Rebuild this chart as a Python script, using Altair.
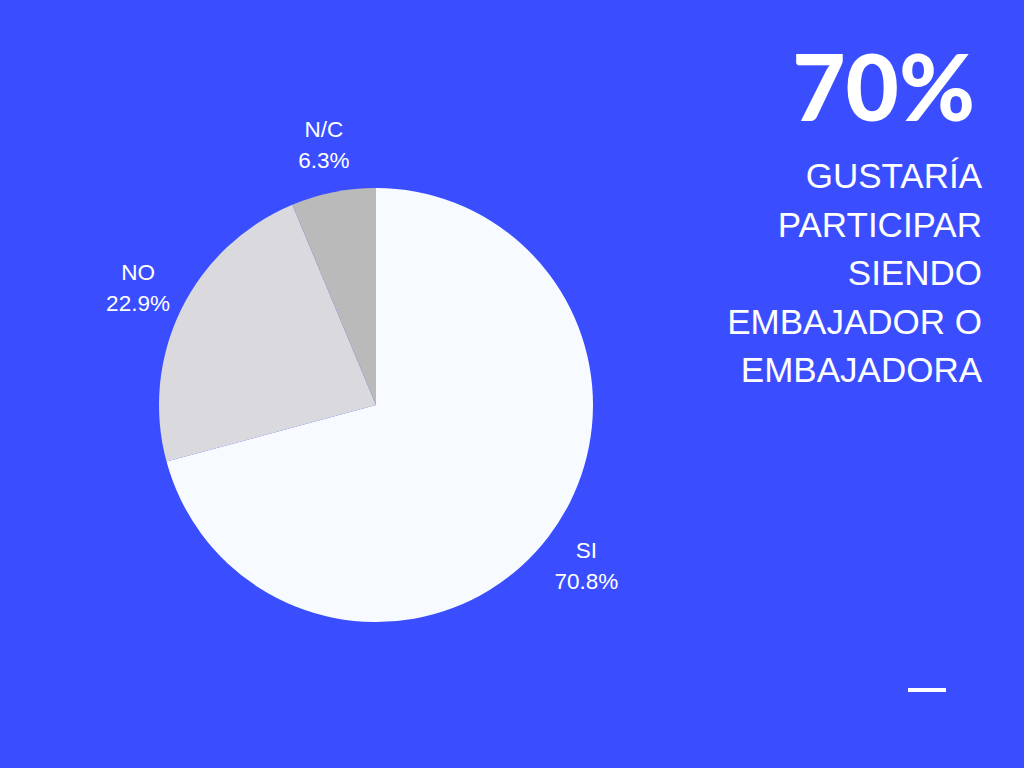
import altair as alt
import pandas as pd

categories = ["SI", "NO", "N/C"]
values = [70.8, 22.9, 6.3]
colors = ["#F7FBFF", "#DADADE", "#BABABA"]
headline = "70%"
subtitle_lines = ["GUSTARÍA", "PARTICIPAR", "SIENDO", "EMBAJADOR O", "EMBAJADORA"]

df = pd.DataFrame({
    "cat": categories,
    "val": values,
    "ord": list(range(len(categories))),
})
df["label"] = [f"{c}\n{v:.1f}%" for c, v in zip(categories, values)]

BG = "#3A4EFF"
CX, CY = 376, 405

base = alt.Chart(df).encode(
    theta=alt.Theta("val:Q", stack=True),
    order=alt.Order("ord:Q", sort="ascending"),
)

pie = base.mark_arc(outerRadius=217, stroke=None).encode(
    x=alt.value(CX), y=alt.value(CY),
    color=alt.Color("cat:N", scale=alt.Scale(domain=categories, range=colors), legend=None),
)

labels = base.mark_text(
    radius=265, font="Liberation Sans", fontSize=22.5, color="white",
    lineBreak="\n", lineHeight=31, align="center", baseline="middle", dy=-15,
).encode(x=alt.value(CX), y=alt.value(CY), text="label:N")

one = pd.DataFrame({"k": [0]})

head = alt.Chart(one).mark_text(
    text=headline, font="Lato", fontWeight=900, fontSize=92, color="white",
    align="right", baseline="middle",
).encode(x=alt.value(975), y=alt.value(93))

sub = alt.Chart(one).mark_text(
    text=subtitle_lines, font="Liberation Sans", fontSize=35, color="white",
    align="right", baseline="middle", lineHeight=48.5,
).encode(x=alt.value(982), y=alt.value(177))

dash = alt.Chart(one).mark_rule(color="white", strokeWidth=4).encode(
    x=alt.value(908), x2=alt.value(946), y=alt.value(690)
)

chart = alt.layer(pie, labels, head, sub, dash).properties(
    width=1024, height=768, background=BG, padding=0,
    autosize=alt.AutoSizeParams(type="none"),
).configure_view(stroke=None)

chart.save("out.html", embed_options={"renderer": "svg", "actions": False})
